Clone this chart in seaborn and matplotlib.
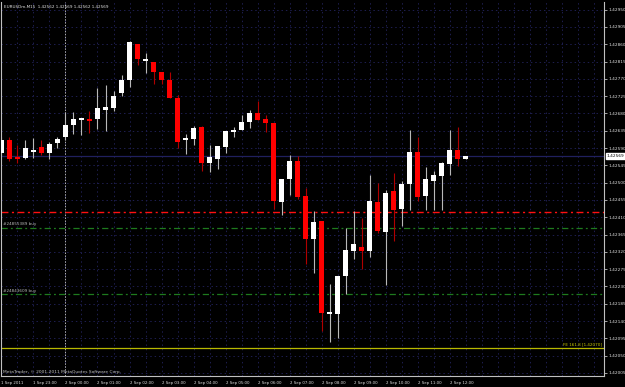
import numpy as np
import pandas as pd
import matplotlib.pyplot as plt
import matplotlib.transforms as mtransforms
import seaborn as sns

# EURUSDm M15 candles, 1 Sep 2011 22:00 -> 2 Sep 2011 12:30
times = pd.date_range('2011-09-01 22:00', periods=59, freq='15min')
opens = [1.42577, 1.42611, 1.42568, 1.42565, 1.42581, 1.42592, 1.42577, 1.42602,
         1.42618, 1.42650, 1.42663, 1.42665, 1.42665, 1.42689, 1.42694, 1.42732,
         1.42767, 1.42861, 1.42817, 1.42813, 1.42789, 1.42767, 1.42721, 1.42611,
         1.42614, 1.42644, 1.42552, 1.42562, 1.42592, 1.42633, 1.42637, 1.42657,
         1.42681, 1.42666, 1.42656, 1.42449, 1.42510, 1.42557, 1.42464, 1.42353,
         1.42399, 1.42159, 1.42159, 1.42258, 1.42322, 1.42333, 1.42321, 1.42450,
         1.42371, 1.42477, 1.42432, 1.42497, 1.42580, 1.42464, 1.42505, 1.42517,
         1.42548, 1.42584, 1.42562]
highs = [1.42619, 1.42618, 1.42598, 1.42611, 1.42616, 1.42611, 1.42607, 1.42618,
         1.42685, 1.42685, 1.42668, 1.42687, 1.42746, 1.42754, 1.42739, 1.42780,
         1.42869, 1.42861, 1.42838, 1.42813, 1.42789, 1.42789, 1.42728, 1.42627,
         1.42647, 1.42647, 1.42598, 1.42595, 1.42634, 1.42646, 1.42676, 1.42689,
         1.42713, 1.42676, 1.42656, 1.42510, 1.42572, 1.42569, 1.42487, 1.42427,
         1.42399, 1.42237, 1.42258, 1.42383, 1.42427, 1.42407, 1.42519, 1.42498,
         1.42481, 1.42526, 1.42505, 1.42637, 1.42620, 1.42540, 1.42530, 1.42554,
         1.42637, 1.42644, 1.42569]
lows = [1.42569, 1.42557, 1.42551, 1.42561, 1.42565, 1.42572, 1.42562, 1.42590,
        1.42611, 1.42627, 1.42624, 1.42630, 1.42640, 1.42635, 1.42687, 1.42726,
        1.42748, 1.42805, 1.42786, 1.42757, 1.42757, 1.42721, 1.42590, 1.42575,
        1.42598, 1.42530, 1.42529, 1.42535, 1.42578, 1.42620, 1.42637, 1.42642,
        1.42663, 1.42633, 1.42431, 1.42416, 1.42468, 1.42457, 1.42289, 1.42266,
        1.42113, 1.42086, 1.42095, 1.42211, 1.42302, 1.42276, 1.42306, 1.42368,
        1.42234, 1.42349, 1.42386, 1.42430, 1.42452, 1.42429, 1.42429, 1.42429,
        1.42519, 1.42543, 1.42562]
closes = [1.42611, 1.42562, 1.42562, 1.42590, 1.42585, 1.42577, 1.42601, 1.42613,
          1.42650, 1.42665, 1.42668, 1.42661, 1.42693, 1.42697, 1.42726, 1.42767,
          1.42865, 1.42823, 1.42822, 1.42788, 1.42767, 1.42721, 1.42607, 1.42614,
          1.42643, 1.42551, 1.42566, 1.42595, 1.42634, 1.42637, 1.42659, 1.42681,
          1.42663, 1.42655, 1.42452, 1.42510, 1.42557, 1.42462, 1.42353, 1.42397,
          1.42160, 1.42164, 1.42258, 1.42325, 1.42340, 1.42321, 1.42452, 1.42374,
          1.42474, 1.42429, 1.42497, 1.42579, 1.42463, 1.42509, 1.42519, 1.42550,
          1.42584, 1.42562, 1.42569]

# horizontal levels on the chart
sell_stop = 1.42424
order_levels = [1.42383, 1.42210]
order_names = ['#24855389 buy', '#24843609 buy']
fe_level = 1.42070
bid = 1.42569

price_ticks = [1.42950 - 0.00045 * k for k in range(22)]
time_labels = ['1 Sep 2011', '1 Sep 23:00'] + ['2 Sep %02d:00' % h for h in range(13)]

df = pd.DataFrame({'time': times, 'open': opens, 'high': highs, 'low': lows, 'close': closes})
df['pos'] = np.arange(len(df))
df['up'] = df['close'] >= df['open']

sns.set_style('dark', {'axes.facecolor': '#000000', 'figure.facecolor': '#000000'})
plt.rcParams['font.family'] = ['DejaVu Sans']

fig = plt.figure(figsize=(6.25, 3.87), dpi=100)
ax = fig.add_axes([1 / 625, 1 - 376 / 387, 603 / 625, 374 / 387])
ax.set_facecolor('#000000')
mixed = mtransforms.blended_transform_factory(ax.transAxes, ax.transData)

# grid
for p in price_ticks:
    ax.axhline(p, color='#1e1e50', lw=0.7, ls=(0, (1.5, 3)), zorder=0)
for x in range(0, 76, 2):
    ax.axvline(x, color='#1e1e50', lw=0.7, ls=(0, (1.5, 3)), zorder=0)
ax.axvline(8, color='#b0b0b0', lw=0.7, ls=(0, (1.5, 1.5)), zorder=1)

# levels
ax.axhline(bid, color='#20205e', lw=0.9, zorder=1)
ax.axhline(sell_stop, color='#ff1010', lw=1.0, ls=(0, (5, 2.5, 1.5, 2.5)), zorder=1)
for lvl, name in zip(order_levels, order_names):
    ax.axhline(lvl, color='#1e7a1e', lw=0.9, ls=(0, (5, 2.5, 1.5, 2.5)), zorder=1)
    ax.text(0.004, lvl + 0.00003, name, transform=mixed,
            color='#b8b8b8', fontsize=3, va='bottom', ha='left')
ax.axhline(fe_level, color='#b8b800', lw=0.9, zorder=1)
ax.text(0.996, fe_level + 0.00003, 'FE 161.8 [%.5f]' % fe_level, transform=mixed,
        color='#c8c800', fontsize=3, va='bottom', ha='right')

# candles
for up, wick_col, body_col in [(True, '#b8b8b8', '#ffffff'), (False, '#b00000', '#ff0000')]:
    d = df[df['up'] == up]
    ax.vlines(d['pos'], d['low'], d['high'], color=wick_col, lw=0.8, zorder=2)
    bottom = np.minimum(d['open'], d['close'])
    height = np.maximum((d['close'] - d['open']).abs(), 0.00004)
    ax.bar(d['pos'], height, bottom=bottom, width=0.62, color=body_col, edgecolor='none', zorder=3)

ax.set_xlim(-0.06, 75.3)
ax.set_ylim(1.41997, 1.42970)

# axes & ticks
for s in ['left', 'right', 'bottom']:
    ax.spines[s].set_color('#c0c0c0')
    ax.spines[s].set_linewidth(0.8)
ax.spines['top'].set_visible(False)
ax.yaxis.tick_right()
ax.set_yticks(price_ticks)
ax.set_yticklabels(['%.5f' % p for p in price_ticks])
ax.set_xticks(list(range(0, 57, 4)))
ax.set_xticklabels(time_labels, ha='left')
ax.tick_params(axis='y', colors='#c0c0c0', labelcolor='#e0e0e0', labelsize=3.1, length=2, width=0.6, pad=1.2)
ax.tick_params(axis='x', colors='#c0c0c0', labelcolor='#e0e0e0', labelsize=2.8, length=2, width=0.6, pad=1.5)
for lab in ax.get_xticklabels():
    lab.set_horizontalalignment('left')

# bid price box
ax.text(1.0045, bid, '%.5f' % bid, transform=mixed,
        color='black', fontsize=3.1, va='center', ha='left',
        bbox=dict(boxstyle='square,pad=0.25', fc='white', ec='white'))

# header and footer
ax.text(0.005, 0.993, 'EURUSDm,M15  1.42562 1.42569 1.42562 1.42569', transform=ax.transAxes,
        color='#e0e0e0', fontsize=3, va='top', ha='left')
ax.text(0.004, 0.006, 'MetaTrader, \u00a9 2001-2011 MetaQuotes Software Corp.', transform=ax.transAxes,
        color='#c0c0c0', fontsize=3.2, va='bottom', ha='left')

fig.savefig('out.png', dpi=100, facecolor='#000000')
